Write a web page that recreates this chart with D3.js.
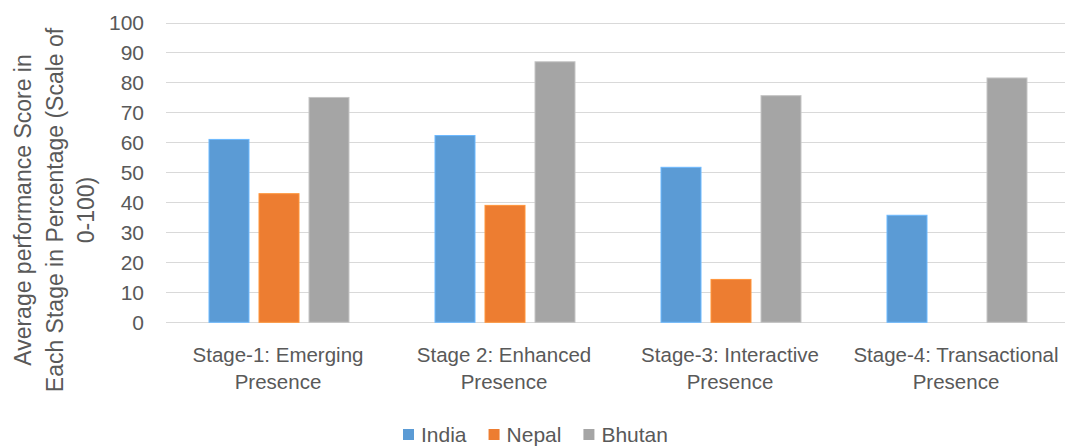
<html>
<head>
  <script src="https://d3js.org/d3.v7.min.js"></script>
  <style>
  body { margin: 0; background: #fff; }
  svg { display: block; font-family: "Liberation Sans", Arial, sans-serif; }
  .grid line { stroke: #d9d9d9; stroke-width: 1; }
  text { fill: #595959; }
  </style>
</head>
<body>
  <svg id="chart" width="1065" height="446"></svg>
  <script>

var categories = [["Stage-1: Emerging", "Presence"], ["Stage 2: Enhanced", "Presence"],
  ["Stage-3: Interactive", "Presence"], ["Stage-4: Transactional", "Presence"]];
var series = ["India", "Nepal", "Bhutan"];
var colors = ["#5b9bd5", "#ed7d31", "#a5a5a5"];
var india = [61, 62.3, 51.7, 35.7];
var nepal = [42.9, 39, 14.3, 0];
var bhutan = [75, 86.9, 75.6, 81.5];
var yTicks = [0, 10, 20, 30, 40, 50, 60, 70, 80, 90, 100];
var yTitle = ["Average performance Score in", "Each Stage in Percentage (Scale of", "0-100)"];

var values = [india, nepal, bhutan];

var svg = d3.select("#chart");

var y = d3.scaleLinear().domain([0, 100]).range([322.3, 22.5]);

var x0 = d3.scaleBand()
  .domain(d3.range(categories.length))
  .range([166, 1070]);

var x1 = d3.scaleBand()
  .domain(series)
  .range([43, 183])
  .paddingInner(0.2);

var color = d3.scaleOrdinal().domain(series).range(colors);

// gridlines
svg.append("g")
  .attr("class", "grid")
  .selectAll("line")
  .data(yTicks)
  .enter().append("line")
    .attr("x1", 166)
    .attr("x2", 1070)
    .attr("y1", function(d) { return Math.round(y(d)) + 0.5; })
    .attr("y2", function(d) { return Math.round(y(d)) + 0.5; });

// y tick labels
svg.append("g")
  .selectAll("text")
  .data(yTicks)
  .enter().append("text")
    .attr("x", 144)
    .attr("y", function(d) { return y(d); })
    .attr("dy", "0.35em")
    .attr("text-anchor", "end")
    .style("font-size", "21px")
    .text(function(d) { return d; });

// bars
var group = svg.append("g")
  .selectAll("g")
  .data(categories)
  .enter().append("g")
    .attr("transform", function(d, i) { return "translate(" + x0(i) + ",0)"; });

group.selectAll("rect")
  .data(function(d, i) { return series.map(function(s, j) { return {key: s, value: values[j][i]}; }); })
  .enter().append("rect")
    .attr("x", function(d) { return x1(d.key); })
    .attr("width", x1.bandwidth())
    .attr("y", function(d) { return y(d.value); })
    .attr("height", function(d) { return y(0) - y(d.value); })
    .attr("fill", function(d) { return color(d.key); })
    .attr("stroke", function(d) { return d.value > 0 ? d3.color(color(d.key)).brighter(0.5) : "none"; })
    .attr("stroke-width", 1);

// category labels
group.selectAll("text")
  .data(function(d) { return d; })
  .enter().append("text")
    .attr("x", x0.bandwidth() / 2 - 1)
    .attr("y", function(d, k) { return 362 + k * 26.5; })
    .attr("text-anchor", "middle")
    .style("font-size", "20.5px")
    .text(function(d) { return d; });

// y axis title
svg.append("g")
  .selectAll("text")
  .data(yTitle)
  .enter().append("text")
    .attr("transform", function(d, i) { return "translate(" + (23 + i * 31.5) + ",210) rotate(-90)"; })
    .attr("dy", "0.35em")
    .attr("text-anchor", "middle")
    .style("font-size", "23px")
    .text(function(d) { return d; });

// legend
var lx = 403;
series.forEach(function(s) {
  svg.append("rect")
    .attr("x", lx)
    .attr("y", 429)
    .attr("width", 11)
    .attr("height", 11)
    .attr("fill", color(s));
  var t = svg.append("text")
    .attr("x", lx + 18)
    .attr("y", 442)
    .style("font-size", "21px")
    .text(s);
  lx += 18 + t.node().getComputedTextLength() + 22;
});

  </script>
</body>
</html>
